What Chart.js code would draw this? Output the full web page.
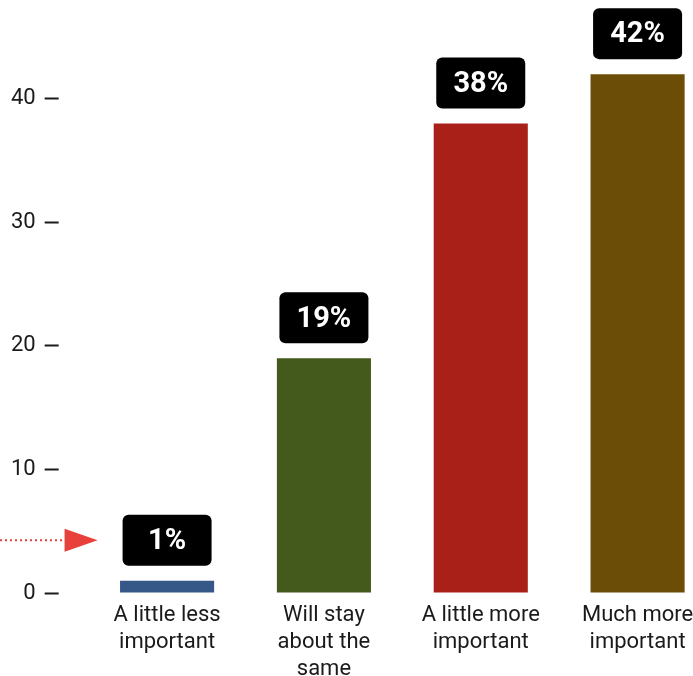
<!DOCTYPE html>
<html>
<head>
<meta charset="utf-8">
<script src="https://cdn.jsdelivr.net/npm/chart.js@4"></script>
<style>
  html, body { margin: 0; padding: 0; background: #fff; overflow: hidden; }
  #wrap { position: relative; width: 716px; height: 676px; }
</style>
</head>
<body>
<div id="wrap"><canvas id="c"></canvas></div>
<script>
const categories = [
  ['A little less', 'important'],
  ['Will stay', 'about the', 'same'],
  ['A little more', 'important'],
  ['Much more', 'important']
];
const values = [1, 19, 38, 42];
const valueLabels = ['1%', '19%', '38%', '42%'];
const barColors = ['#365888', '#435a1c', '#a82018', '#6c4d08'];
const yTicks = [0, 10, 20, 30, 40];

Chart.defaults.font.family = 'Roboto';

const labelBoxes = {
  id: 'labelBoxes',
  afterDatasetsDraw(chart) {
    const ctx = chart.ctx;
    const meta = chart.getDatasetMeta(0);
    ctx.save();
    meta.data.forEach((bar, i) => {
      const w = 89, h = 51, gap = 15;
      const x = bar.x - w / 2;
      const y = bar.y - gap - h;
      ctx.beginPath();
      ctx.roundRect(x, y, w, h, 6);
      ctx.fillStyle = '#000';
      ctx.fill();
      ctx.fillStyle = '#fff';
      ctx.font = 'bold 29px Roboto';
      ctx.textAlign = 'center';
      ctx.textBaseline = 'middle';
      ctx.fillText(valueLabels[i], bar.x, y + h / 2 + 1.5);
    });
    // arrow pointing at first label
    const b0 = meta.data[0];
    const boxLeft = b0.x - 44.5;
    const cy = b0.y - 15 - 25.5;
    const tip = boxLeft - 25;
    const base = tip - 33;
    ctx.fillStyle = '#e8403a';
    ctx.beginPath();
    ctx.moveTo(tip, cy);
    ctx.lineTo(base, cy - 11.5);
    ctx.lineTo(base, cy + 11.5);
    ctx.closePath();
    ctx.fill();
    ctx.strokeStyle = '#e8403a';
    ctx.lineWidth = 2;
    ctx.setLineDash([2, 3]);
    ctx.beginPath();
    ctx.moveTo(0, cy);
    ctx.lineTo(base, cy);
    ctx.stroke();
    ctx.restore();
  }
};

new Chart(document.getElementById('c'), {
  type: 'bar',
  data: {
    labels: categories,
    datasets: [{
      data: values,
      backgroundColor: barColors,
      borderWidth: 0,
      barPercentage: 0.6,
      categoryPercentage: 1.0
    }]
  },
  options: {
    responsive: true,
    maintainAspectRatio: false,
    animation: false,
    layout: { padding: 0 },
    plugins: { legend: { display: false }, tooltip: { enabled: false } },
    scales: {
      x: {
        offset: true,
        grid: { display: false, drawTicks: false },
        border: { display: false },
        ticks: {
          color: '#1a1a1a',
          padding: 9,
          maxRotation: 0,
          autoSkip: false,
          font: { size: 22, lineHeight: 1.227 }
        },
        afterFit(scale) {
          scale.height = 83;
          scale.paddingLeft = 0;
          scale.paddingRight = 0;
        }
      },
      y: {
        min: 0,
        max: 48,
        border: { display: false },
        grid: {
          drawOnChartArea: false,
          drawTicks: true,
          tickLength: 44,
          tickColor: '#1a1a1a',
          tickWidth: 2,
          tickBorderDash: [14, 100],
          tickBorderDashOffset: 0
        },
        ticks: {
          includeBounds: false,
          stepSize: 10,
          padding: 9,
          color: '#1a1a1a',
          font: { size: 22 }
        },
        afterBuildTicks(scale) {
          scale.ticks = yTicks.map(v => ({ value: v }));
        },
        afterFit(scale) {
          scale.width = 88.67;
          scale.paddingTop = 0;
          scale.paddingBottom = 0;
        }
      }
    }
  },
  plugins: [labelBoxes]
});
</script>
</body>
</html>
